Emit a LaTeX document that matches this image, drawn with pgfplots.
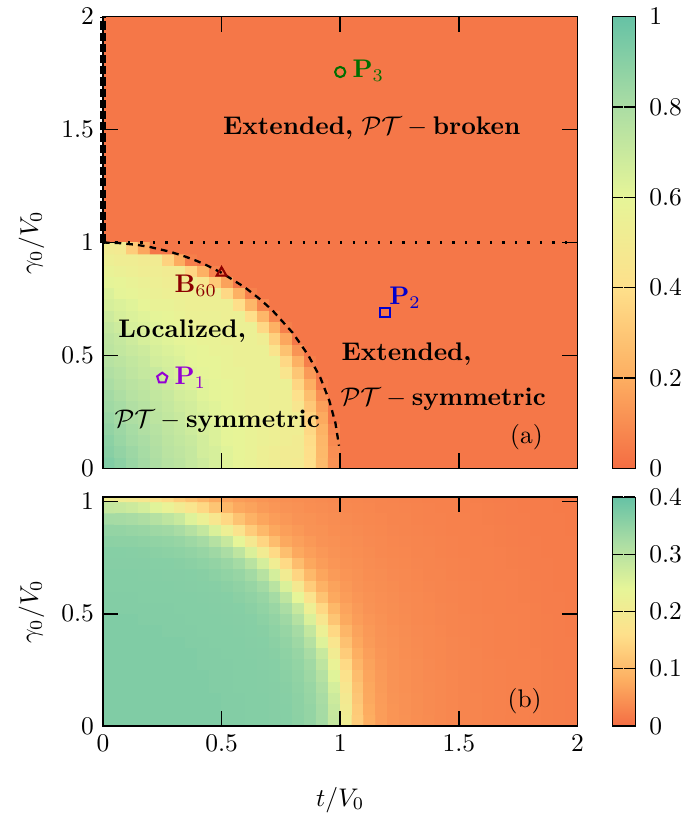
\documentclass[border=0pt]{standalone}
\usepackage{pgfplots}
\pgfplotsset{compat=1.18}
\usetikzlibrary{plotmarks}
\definecolor{bgorange}{RGB}{245,119,72}
\definecolor{pviolet}{RGB}{148,0,211}
\definecolor{pblue}{RGB}{0,0,205}
\definecolor{pgreen}{RGB}{0,110,0}
\definecolor{bred}{RGB}{140,0,0}
\pgfplotsset{
  colormap={spec}{rgb255(0cm)=(244,109,67); rgb255(1cm)=(253,174,97); rgb255(2cm)=(254,224,139); rgb255(3cm)=(230,245,152); rgb255(4cm)=(171,221,164); rgb255(5cm)=(102,194,165)},
  panel/.style={
    scale only axis, width=186.3pt,
    xmin=0, xmax=2, enlargelimits=false,
    axis on top,
    tick align=inside, tick pos=both,
    major tick length=6pt,
    tick style={black, line width=0.6pt},
    axis line style={line width=0.6pt},
    colormap name=spec,
    colorbar,
    colorbar style={width=9pt, at={(parent axis.north east)}, anchor=north west, xshift=5.1pt,
      tick align=inside, ytick pos=both, yticklabel pos=right, major tick length=4.3pt,
      yticklabel style={xshift=2pt}, axis line style={line width=0.5pt}},
    every axis y label/.style={at={(axis description cs:0,0.5)}, xshift=-28pt, rotate=90, anchor=center},
  },
}
\begin{document}
\begin{tikzpicture}
\begin{axis}[panel, at={(0,0)}, anchor=north west, height=177.3pt,
  ymin=0, ymax=2, xtick={0,0.5,1,1.5,2}, xticklabels={}, ytick={0,0.5,1,1.5,2},
  ylabel={$\gamma_0/V_0$}, point meta min=0, point meta max=1,
  colorbar style={ytick={0,0.2,0.4,0.6,0.8,1}},
  axis background/.style={fill=bgorange}, clip=false]
\addplot[matrix plot*, mesh/cols=22, point meta=explicit] table[row sep=\\, meta index=2] {
0.025 0.025 0.92\\ 0.075 0.025 0.89\\ 0.125 0.025 0.85\\ 0.175 0.025 0.82\\ 0.225 0.025 0.79\\ 0.275 0.025 0.76\\ 0.325 0.025 0.74\\ 0.375 0.025 0.71\\ 0.425 0.025 0.684\\ 0.475 0.025 0.652\\ 0.525 0.025 0.62\\ 0.575 0.025 0.588\\ 0.625 0.025 0.572\\ 0.675 0.025 0.54\\ 0.725 0.025 0.524\\ 0.775 0.025 0.508\\ 0.825 0.025 0.492\\ 0.875 0.025 0.402\\ 0.925 0.025 0.253\\ 0.975 0.025 0.113\\ 1.025 0.025 0.03\\ 1.075 0.025 0.03\\
0.025 0.075 0.90\\ 0.075 0.075 0.87\\ 0.125 0.075 0.84\\ 0.175 0.075 0.81\\ 0.225 0.075 0.78\\ 0.275 0.075 0.75\\ 0.325 0.075 0.73\\ 0.375 0.075 0.71\\ 0.425 0.075 0.668\\ 0.475 0.075 0.652\\ 0.525 0.075 0.62\\ 0.575 0.075 0.588\\ 0.625 0.075 0.572\\ 0.675 0.075 0.54\\ 0.725 0.075 0.524\\ 0.775 0.075 0.508\\ 0.825 0.075 0.508\\ 0.875 0.075 0.394\\ 0.925 0.075 0.245\\ 0.975 0.075 0.104\\ 1.025 0.075 0.03\\ 1.075 0.075 0.03\\
0.025 0.125 0.89\\ 0.075 0.125 0.85\\ 0.125 0.125 0.82\\ 0.175 0.125 0.80\\ 0.225 0.125 0.77\\ 0.275 0.125 0.74\\ 0.325 0.125 0.72\\ 0.375 0.125 0.70\\ 0.425 0.125 0.668\\ 0.475 0.125 0.636\\ 0.525 0.125 0.604\\ 0.575 0.125 0.588\\ 0.625 0.125 0.572\\ 0.675 0.125 0.556\\ 0.725 0.125 0.54\\ 0.775 0.125 0.524\\ 0.825 0.125 0.508\\ 0.875 0.125 0.386\\ 0.925 0.125 0.237\\ 0.975 0.125 0.088\\ 1.025 0.125 0.03\\ 1.075 0.125 0.03\\
0.025 0.175 0.87\\ 0.075 0.175 0.84\\ 0.125 0.175 0.81\\ 0.175 0.175 0.78\\ 0.225 0.175 0.76\\ 0.275 0.175 0.73\\ 0.325 0.175 0.71\\ 0.375 0.175 0.684\\ 0.425 0.175 0.652\\ 0.475 0.175 0.636\\ 0.525 0.175 0.604\\ 0.575 0.175 0.588\\ 0.625 0.175 0.572\\ 0.675 0.175 0.556\\ 0.725 0.175 0.54\\ 0.775 0.175 0.524\\ 0.825 0.175 0.524\\ 0.875 0.175 0.369\\ 0.925 0.175 0.22\\ 0.975 0.175 0.071\\ 1.025 0.175 0.03\\ 1.075 0.175 0.03\\
0.025 0.225 0.85\\ 0.075 0.225 0.82\\ 0.125 0.225 0.79\\ 0.175 0.225 0.77\\ 0.225 0.225 0.74\\ 0.275 0.225 0.72\\ 0.325 0.225 0.70\\ 0.375 0.225 0.668\\ 0.425 0.225 0.652\\ 0.475 0.225 0.62\\ 0.525 0.225 0.604\\ 0.575 0.225 0.588\\ 0.625 0.225 0.556\\ 0.675 0.225 0.556\\ 0.725 0.225 0.54\\ 0.775 0.225 0.54\\ 0.825 0.225 0.524\\ 0.875 0.225 0.344\\ 0.925 0.225 0.187\\ 0.975 0.225 0.03\\ 1.025 0.225 0.03\\ 1.075 0.225 0.03\\
0.025 0.275 0.83\\ 0.075 0.275 0.81\\ 0.125 0.275 0.78\\ 0.175 0.275 0.76\\ 0.225 0.275 0.73\\ 0.275 0.275 0.71\\ 0.325 0.275 0.684\\ 0.375 0.275 0.668\\ 0.425 0.275 0.636\\ 0.475 0.275 0.62\\ 0.525 0.275 0.588\\ 0.575 0.275 0.572\\ 0.625 0.275 0.556\\ 0.675 0.275 0.556\\ 0.725 0.275 0.54\\ 0.775 0.275 0.54\\ 0.825 0.275 0.46\\ 0.875 0.275 0.303\\ 0.925 0.275 0.154\\ 0.975 0.275 0.03\\ 1.025 0.275 0.03\\ 1.075 0.275 0.03\\
0.025 0.325 0.82\\ 0.075 0.325 0.79\\ 0.125 0.325 0.76\\ 0.175 0.325 0.74\\ 0.225 0.325 0.72\\ 0.275 0.325 0.70\\ 0.325 0.325 0.668\\ 0.375 0.325 0.652\\ 0.425 0.325 0.62\\ 0.475 0.325 0.604\\ 0.525 0.325 0.588\\ 0.575 0.325 0.572\\ 0.625 0.325 0.556\\ 0.675 0.325 0.556\\ 0.725 0.325 0.54\\ 0.775 0.325 0.54\\ 0.825 0.325 0.41\\ 0.875 0.325 0.262\\ 0.925 0.325 0.104\\ 0.975 0.325 0.03\\ 1.025 0.325 0.03\\ 1.075 0.325 0.03\\
0.025 0.375 0.80\\ 0.075 0.375 0.77\\ 0.125 0.375 0.75\\ 0.175 0.375 0.73\\ 0.225 0.375 0.71\\ 0.275 0.375 0.684\\ 0.325 0.375 0.652\\ 0.375 0.375 0.636\\ 0.425 0.375 0.62\\ 0.475 0.375 0.604\\ 0.525 0.375 0.588\\ 0.575 0.375 0.572\\ 0.625 0.375 0.556\\ 0.675 0.375 0.556\\ 0.725 0.375 0.556\\ 0.775 0.375 0.556\\ 0.825 0.375 0.361\\ 0.875 0.375 0.204\\ 0.925 0.375 0.047\\ 0.975 0.375 0.03\\ 1.025 0.375 0.03\\ 1.075 0.375 0.03\\
0.025 0.425 0.78\\ 0.075 0.425 0.76\\ 0.125 0.425 0.73\\ 0.175 0.425 0.71\\ 0.225 0.425 0.70\\ 0.275 0.425 0.668\\ 0.325 0.425 0.636\\ 0.375 0.425 0.62\\ 0.425 0.425 0.604\\ 0.475 0.425 0.588\\ 0.525 0.425 0.572\\ 0.575 0.425 0.572\\ 0.625 0.425 0.556\\ 0.675 0.425 0.556\\ 0.725 0.425 0.556\\ 0.775 0.425 0.444\\ 0.825 0.425 0.295\\ 0.875 0.425 0.138\\ 0.925 0.425 0.03\\ 0.975 0.425 0.03\\ 1.025 0.425 0.03\\ 1.075 0.425 0.03\\
0.025 0.475 0.76\\ 0.075 0.475 0.74\\ 0.125 0.475 0.72\\ 0.175 0.475 0.70\\ 0.225 0.475 0.668\\ 0.275 0.475 0.652\\ 0.325 0.475 0.636\\ 0.375 0.475 0.604\\ 0.425 0.475 0.588\\ 0.475 0.475 0.588\\ 0.525 0.475 0.572\\ 0.575 0.475 0.556\\ 0.625 0.475 0.556\\ 0.675 0.475 0.556\\ 0.725 0.475 0.556\\ 0.775 0.475 0.369\\ 0.825 0.475 0.212\\ 0.875 0.475 0.055\\ 0.925 0.475 0.03\\ 0.975 0.475 0.03\\ 1.025 0.475 0.03\\ 1.075 0.475 0.03\\
0.025 0.525 0.74\\ 0.075 0.525 0.72\\ 0.125 0.525 0.70\\ 0.175 0.525 0.684\\ 0.225 0.525 0.652\\ 0.275 0.525 0.636\\ 0.325 0.525 0.62\\ 0.375 0.525 0.604\\ 0.425 0.525 0.588\\ 0.475 0.525 0.572\\ 0.525 0.525 0.572\\ 0.575 0.525 0.556\\ 0.625 0.525 0.556\\ 0.675 0.525 0.556\\ 0.725 0.525 0.435\\ 0.775 0.525 0.278\\ 0.825 0.525 0.121\\ 0.875 0.525 0.03\\ 0.925 0.525 0.03\\ 0.975 0.525 0.03\\ 1.025 0.525 0.03\\ 1.075 0.525 0.03\\
0.025 0.575 0.73\\ 0.075 0.575 0.71\\ 0.125 0.575 0.684\\ 0.175 0.575 0.652\\ 0.225 0.575 0.636\\ 0.275 0.575 0.62\\ 0.325 0.575 0.604\\ 0.375 0.575 0.588\\ 0.425 0.575 0.572\\ 0.475 0.575 0.572\\ 0.525 0.575 0.556\\ 0.575 0.575 0.556\\ 0.625 0.575 0.556\\ 0.675 0.575 0.524\\ 0.725 0.575 0.336\\ 0.775 0.575 0.179\\ 0.825 0.575 0.03\\ 0.875 0.575 0.03\\ 0.925 0.575 0.03\\ 0.975 0.575 0.03\\ 1.025 0.575 0.03\\ 1.075 0.575 0.03\\
0.025 0.625 0.71\\ 0.075 0.625 0.684\\ 0.125 0.625 0.652\\ 0.175 0.625 0.636\\ 0.225 0.625 0.62\\ 0.275 0.625 0.604\\ 0.325 0.625 0.588\\ 0.375 0.625 0.572\\ 0.425 0.625 0.556\\ 0.475 0.625 0.556\\ 0.525 0.625 0.556\\ 0.575 0.625 0.556\\ 0.625 0.625 0.556\\ 0.675 0.625 0.369\\ 0.725 0.625 0.212\\ 0.775 0.625 0.055\\ 0.825 0.625 0.03\\ 0.875 0.625 0.03\\ 0.925 0.625 0.03\\ 0.975 0.625 0.03\\ 1.025 0.625 0.03\\ 1.075 0.625 0.03\\
0.025 0.675 0.684\\ 0.075 0.675 0.652\\ 0.125 0.675 0.636\\ 0.175 0.675 0.62\\ 0.225 0.675 0.604\\ 0.275 0.675 0.588\\ 0.325 0.675 0.572\\ 0.375 0.675 0.556\\ 0.425 0.675 0.556\\ 0.475 0.675 0.556\\ 0.525 0.675 0.54\\ 0.575 0.675 0.556\\ 0.625 0.675 0.394\\ 0.675 0.675 0.237\\ 0.725 0.675 0.08\\ 0.775 0.675 0.03\\ 0.825 0.675 0.03\\ 0.875 0.675 0.03\\ 0.925 0.675 0.03\\ 0.975 0.675 0.03\\ 1.025 0.675 0.03\\ 1.075 0.675 0.03\\
0.025 0.725 0.652\\ 0.075 0.725 0.636\\ 0.125 0.725 0.62\\ 0.175 0.725 0.588\\ 0.225 0.725 0.572\\ 0.275 0.725 0.572\\ 0.325 0.725 0.556\\ 0.375 0.725 0.54\\ 0.425 0.725 0.54\\ 0.475 0.725 0.54\\ 0.525 0.725 0.54\\ 0.575 0.725 0.394\\ 0.625 0.725 0.237\\ 0.675 0.725 0.08\\ 0.725 0.725 0.03\\ 0.775 0.725 0.03\\ 0.825 0.725 0.03\\ 0.875 0.725 0.03\\ 0.925 0.725 0.03\\ 0.975 0.725 0.03\\ 1.025 0.725 0.03\\ 1.075 0.725 0.03\\
0.025 0.775 0.636\\ 0.075 0.775 0.604\\ 0.125 0.775 0.588\\ 0.175 0.775 0.572\\ 0.225 0.775 0.556\\ 0.275 0.775 0.54\\ 0.325 0.775 0.54\\ 0.375 0.775 0.54\\ 0.425 0.775 0.54\\ 0.475 0.775 0.54\\ 0.525 0.775 0.369\\ 0.575 0.775 0.212\\ 0.625 0.775 0.063\\ 0.675 0.775 0.03\\ 0.725 0.775 0.03\\ 0.775 0.775 0.03\\ 0.825 0.775 0.03\\ 0.875 0.775 0.03\\ 0.925 0.775 0.03\\ 0.975 0.775 0.03\\ 1.025 0.775 0.03\\ 1.075 0.775 0.03\\
0.025 0.825 0.604\\ 0.075 0.825 0.588\\ 0.125 0.825 0.572\\ 0.175 0.825 0.556\\ 0.225 0.825 0.54\\ 0.275 0.825 0.524\\ 0.325 0.825 0.524\\ 0.375 0.825 0.524\\ 0.425 0.825 0.46\\ 0.475 0.825 0.311\\ 0.525 0.825 0.162\\ 0.575 0.825 0.03\\ 0.625 0.825 0.03\\ 0.675 0.825 0.03\\ 0.725 0.825 0.03\\ 0.775 0.825 0.03\\ 0.825 0.825 0.03\\ 0.875 0.825 0.03\\ 0.925 0.825 0.03\\ 0.975 0.825 0.03\\ 1.025 0.825 0.03\\ 1.075 0.825 0.03\\
0.025 0.875 0.572\\ 0.075 0.875 0.556\\ 0.125 0.875 0.54\\ 0.175 0.875 0.524\\ 0.225 0.875 0.524\\ 0.275 0.875 0.508\\ 0.325 0.875 0.508\\ 0.375 0.875 0.361\\ 0.425 0.875 0.212\\ 0.475 0.875 0.063\\ 0.525 0.875 0.03\\ 0.575 0.875 0.03\\ 0.625 0.875 0.03\\ 0.675 0.875 0.03\\ 0.725 0.875 0.03\\ 0.775 0.875 0.03\\ 0.825 0.875 0.03\\ 0.875 0.875 0.03\\ 0.925 0.875 0.03\\ 0.975 0.875 0.03\\ 1.025 0.875 0.03\\ 1.075 0.875 0.03\\
0.025 0.925 0.54\\ 0.075 0.925 0.524\\ 0.125 0.925 0.524\\ 0.175 0.925 0.508\\ 0.225 0.925 0.508\\ 0.275 0.925 0.344\\ 0.325 0.925 0.195\\ 0.375 0.925 0.055\\ 0.425 0.925 0.03\\ 0.475 0.925 0.03\\ 0.525 0.925 0.03\\ 0.575 0.925 0.03\\ 0.625 0.925 0.03\\ 0.675 0.925 0.03\\ 0.725 0.925 0.03\\ 0.775 0.925 0.03\\ 0.825 0.925 0.03\\ 0.875 0.925 0.03\\ 0.925 0.925 0.03\\ 0.975 0.925 0.03\\ 1.025 0.925 0.03\\ 1.075 0.925 0.03\\
0.025 0.975 0.508\\ 0.075 0.975 0.492\\ 0.125 0.975 0.319\\ 0.175 0.975 0.179\\ 0.225 0.975 0.03\\ 0.275 0.975 0.03\\ 0.325 0.975 0.03\\ 0.375 0.975 0.03\\ 0.425 0.975 0.03\\ 0.475 0.975 0.03\\ 0.525 0.975 0.03\\ 0.575 0.975 0.03\\ 0.625 0.975 0.03\\ 0.675 0.975 0.03\\ 0.725 0.975 0.03\\ 0.775 0.975 0.03\\ 0.825 0.975 0.03\\ 0.875 0.975 0.03\\ 0.925 0.975 0.03\\ 0.975 0.975 0.03\\ 1.025 0.975 0.03\\ 1.075 0.975 0.03\\
};
\addplot[black, line width=2.2pt, dash pattern=on 3.2pt off 1.2pt] coordinates {(0,1) (0,2)};
\addplot[black, line width=1.3pt, dash pattern=on 0.9pt off 4pt] coordinates {(0,1) (2,1)};
\addplot[black, line width=0.9pt, dash pattern=on 2.6pt off 2pt] coordinates {(0,1) (0.063,0.998) (0.141,0.99) (0.199,0.98) (0.28,0.96) (0.341,0.94) (0.392,0.92) (0.436,0.9) (0.5,0.866) (0.6,0.8) (0.661,0.75) (0.714,0.7) (0.8,0.6) (0.866,0.5) (0.917,0.4) (0.954,0.3) (0.98,0.2) (0.995,0.1)};
\addplot[only marks, mark=pentagon, mark size=2.1pt, pviolet, line width=0.8pt] coordinates {(0.25,0.4)};
\addplot[only marks, mark=square, mark size=1.9pt, pblue, line width=0.8pt] coordinates {(1.19,0.69)};
\addplot[only marks, mark=o, mark size=2pt, pgreen, line width=0.8pt] coordinates {(1.0,1.755)};
\addplot[only marks, mark=triangle, mark size=2.2pt, bred, line width=0.8pt] coordinates {(0.5,0.866)};
\node[anchor=base] at (axis cs:1.133,1.478) {\textbf{Extended,} $\mathcal{PT}{}-{}$\textbf{broken}};
\node[anchor=base] at (axis cs:0.334,0.58) {\textbf{Localized,}};
\node[anchor=base] at (axis cs:0.482,0.181) {$\mathcal{PT}{}-{}$\textbf{symmetric}};
\node[anchor=base] at (axis cs:1.28,0.478) {\textbf{Extended,}};
\node[anchor=base] at (axis cs:1.434,0.279) {$\mathcal{PT}{}-{}$\textbf{symmetric}};
\node[anchor=base] at (axis cs:1.785,0.11) {(a)};
\node[anchor=base west, inner sep=0pt, text=pviolet] at (axis cs:0.30,0.372) {$\mathbf{P}_1$};
\node[anchor=base west, inner sep=0pt, text=pblue] at (axis cs:1.205,0.725) {$\mathbf{P}_2$};
\node[anchor=base west, inner sep=0pt, text=pgreen] at (axis cs:1.05,1.73) {$\mathbf{P}_3$};
\node[anchor=base west, inner sep=0pt, text=bred] at (axis cs:0.30,0.779) {$\mathbf{B}_{60}$};
\end{axis}
\begin{axis}[panel, at={(0,-188.6pt)}, anchor=north west, height=89.8pt,
  ymin=0, ymax=1.02, xtick={0,0.5,1,1.5,2}, ytick={0,0.5,1},
  xlabel={$t/V_0$}, ylabel={$\gamma_0/V_0$},
  every axis x label/.style={at={(axis description cs:0.5,0)}, yshift=-29pt, anchor=center},
  point meta min=0, point meta max=0.4,
  colorbar style={ytick={0,0.1,0.2,0.3,0.4}}]
\addplot[matrix plot*, mesh/cols=40, point meta=explicit] table[row sep=\\, meta index=2] {
0.025 0.025 0.37\\ 0.075 0.025 0.37\\ 0.125 0.025 0.37\\ 0.175 0.025 0.37\\ 0.225 0.025 0.37\\ 0.275 0.025 0.37\\ 0.325 0.025 0.37\\ 0.375 0.025 0.37\\ 0.425 0.025 0.37\\ 0.475 0.025 0.37\\ 0.525 0.025 0.366\\ 0.575 0.025 0.366\\ 0.625 0.025 0.365\\ 0.675 0.025 0.365\\ 0.725 0.025 0.363\\ 0.775 0.025 0.362\\ 0.825 0.025 0.356\\ 0.875 0.025 0.346\\ 0.925 0.025 0.327\\ 0.975 0.025 0.285\\ 1.025 0.025 0.208\\ 1.075 0.025 0.128\\ 1.125 0.025 0.080\\ 1.175 0.025 0.059\\ 1.225 0.025 0.049\\ 1.275 0.025 0.045\\ 1.325 0.025 0.041\\ 1.375 0.025 0.038\\ 1.425 0.025 0.035\\ 1.475 0.025 0.032\\ 1.525 0.025 0.030\\ 1.575 0.025 0.029\\ 1.625 0.025 0.027\\ 1.675 0.025 0.026\\ 1.725 0.025 0.025\\ 1.775 0.025 0.024\\ 1.825 0.025 0.023\\ 1.875 0.025 0.022\\ 1.925 0.025 0.021\\ 1.975 0.025 0.020\\
0.025 0.075 0.37\\ 0.075 0.075 0.37\\ 0.125 0.075 0.37\\ 0.175 0.075 0.37\\ 0.225 0.075 0.37\\ 0.275 0.075 0.37\\ 0.325 0.075 0.37\\ 0.375 0.075 0.37\\ 0.425 0.075 0.37\\ 0.475 0.075 0.37\\ 0.525 0.075 0.366\\ 0.575 0.075 0.366\\ 0.625 0.075 0.365\\ 0.675 0.075 0.365\\ 0.725 0.075 0.363\\ 0.775 0.075 0.362\\ 0.825 0.075 0.355\\ 0.875 0.075 0.346\\ 0.925 0.075 0.326\\ 0.975 0.075 0.282\\ 1.025 0.075 0.203\\ 1.075 0.075 0.124\\ 1.125 0.075 0.078\\ 1.175 0.075 0.059\\ 1.225 0.075 0.049\\ 1.275 0.075 0.044\\ 1.325 0.075 0.040\\ 1.375 0.075 0.037\\ 1.425 0.075 0.034\\ 1.475 0.075 0.032\\ 1.525 0.075 0.030\\ 1.575 0.075 0.029\\ 1.625 0.075 0.027\\ 1.675 0.075 0.026\\ 1.725 0.075 0.025\\ 1.775 0.075 0.024\\ 1.825 0.075 0.023\\ 1.875 0.075 0.022\\ 1.925 0.075 0.021\\ 1.975 0.075 0.020\\
0.025 0.125 0.37\\ 0.075 0.125 0.37\\ 0.125 0.125 0.37\\ 0.175 0.125 0.37\\ 0.225 0.125 0.37\\ 0.275 0.125 0.37\\ 0.325 0.125 0.37\\ 0.375 0.125 0.37\\ 0.425 0.125 0.37\\ 0.475 0.125 0.37\\ 0.525 0.125 0.366\\ 0.575 0.125 0.366\\ 0.625 0.125 0.365\\ 0.675 0.125 0.365\\ 0.725 0.125 0.363\\ 0.775 0.125 0.361\\ 0.825 0.125 0.354\\ 0.875 0.125 0.343\\ 0.925 0.125 0.322\\ 0.975 0.125 0.275\\ 1.025 0.125 0.196\\ 1.075 0.125 0.119\\ 1.125 0.125 0.074\\ 1.175 0.125 0.058\\ 1.225 0.125 0.048\\ 1.275 0.125 0.044\\ 1.325 0.125 0.040\\ 1.375 0.125 0.037\\ 1.425 0.125 0.034\\ 1.475 0.125 0.032\\ 1.525 0.125 0.030\\ 1.575 0.125 0.029\\ 1.625 0.125 0.027\\ 1.675 0.125 0.026\\ 1.725 0.125 0.025\\ 1.775 0.125 0.024\\ 1.825 0.125 0.023\\ 1.875 0.125 0.022\\ 1.925 0.125 0.021\\ 1.975 0.125 0.020\\
0.025 0.175 0.37\\ 0.075 0.175 0.37\\ 0.125 0.175 0.37\\ 0.175 0.175 0.37\\ 0.225 0.175 0.37\\ 0.275 0.175 0.37\\ 0.325 0.175 0.37\\ 0.375 0.175 0.37\\ 0.425 0.175 0.37\\ 0.475 0.175 0.366\\ 0.525 0.175 0.366\\ 0.575 0.175 0.365\\ 0.625 0.175 0.365\\ 0.675 0.175 0.364\\ 0.725 0.175 0.363\\ 0.775 0.175 0.360\\ 0.825 0.175 0.352\\ 0.875 0.175 0.340\\ 0.925 0.175 0.315\\ 0.975 0.175 0.264\\ 1.025 0.175 0.184\\ 1.075 0.175 0.113\\ 1.125 0.175 0.072\\ 1.175 0.175 0.056\\ 1.225 0.175 0.047\\ 1.275 0.175 0.043\\ 1.325 0.175 0.039\\ 1.375 0.175 0.037\\ 1.425 0.175 0.034\\ 1.475 0.175 0.032\\ 1.525 0.175 0.030\\ 1.575 0.175 0.028\\ 1.625 0.175 0.027\\ 1.675 0.175 0.026\\ 1.725 0.175 0.025\\ 1.775 0.175 0.024\\ 1.825 0.175 0.023\\ 1.875 0.175 0.022\\ 1.925 0.175 0.021\\ 1.975 0.175 0.020\\
0.025 0.225 0.37\\ 0.075 0.225 0.37\\ 0.125 0.225 0.37\\ 0.175 0.225 0.37\\ 0.225 0.225 0.37\\ 0.275 0.225 0.37\\ 0.325 0.225 0.37\\ 0.375 0.225 0.37\\ 0.425 0.225 0.37\\ 0.475 0.225 0.366\\ 0.525 0.225 0.366\\ 0.575 0.225 0.365\\ 0.625 0.225 0.365\\ 0.675 0.225 0.364\\ 0.725 0.225 0.362\\ 0.775 0.225 0.358\\ 0.825 0.225 0.350\\ 0.875 0.225 0.335\\ 0.925 0.225 0.306\\ 0.975 0.225 0.248\\ 1.025 0.225 0.169\\ 1.075 0.225 0.104\\ 1.125 0.225 0.069\\ 1.175 0.225 0.055\\ 1.225 0.225 0.047\\ 1.275 0.225 0.043\\ 1.325 0.225 0.039\\ 1.375 0.225 0.036\\ 1.425 0.225 0.034\\ 1.475 0.225 0.032\\ 1.525 0.225 0.030\\ 1.575 0.225 0.028\\ 1.625 0.225 0.027\\ 1.675 0.225 0.026\\ 1.725 0.225 0.025\\ 1.775 0.225 0.024\\ 1.825 0.225 0.023\\ 1.875 0.225 0.022\\ 1.925 0.225 0.021\\ 1.975 0.225 0.020\\
0.025 0.275 0.37\\ 0.075 0.275 0.37\\ 0.125 0.275 0.37\\ 0.175 0.275 0.37\\ 0.225 0.275 0.37\\ 0.275 0.275 0.37\\ 0.325 0.275 0.37\\ 0.375 0.275 0.37\\ 0.425 0.275 0.366\\ 0.475 0.275 0.366\\ 0.525 0.275 0.366\\ 0.575 0.275 0.365\\ 0.625 0.275 0.365\\ 0.675 0.275 0.363\\ 0.725 0.275 0.362\\ 0.775 0.275 0.356\\ 0.825 0.275 0.347\\ 0.875 0.275 0.331\\ 0.925 0.275 0.294\\ 0.975 0.275 0.227\\ 1.025 0.275 0.151\\ 1.075 0.275 0.093\\ 1.125 0.275 0.066\\ 1.175 0.275 0.053\\ 1.225 0.275 0.046\\ 1.275 0.275 0.042\\ 1.325 0.275 0.039\\ 1.375 0.275 0.036\\ 1.425 0.275 0.033\\ 1.475 0.275 0.031\\ 1.525 0.275 0.030\\ 1.575 0.275 0.028\\ 1.625 0.275 0.027\\ 1.675 0.275 0.026\\ 1.725 0.275 0.025\\ 1.775 0.275 0.024\\ 1.825 0.275 0.023\\ 1.875 0.275 0.022\\ 1.925 0.275 0.020\\ 1.975 0.275 0.020\\
0.025 0.325 0.37\\ 0.075 0.325 0.37\\ 0.125 0.325 0.37\\ 0.175 0.325 0.37\\ 0.225 0.325 0.37\\ 0.275 0.325 0.37\\ 0.325 0.325 0.37\\ 0.375 0.325 0.37\\ 0.425 0.325 0.366\\ 0.475 0.325 0.366\\ 0.525 0.325 0.365\\ 0.575 0.325 0.365\\ 0.625 0.325 0.364\\ 0.675 0.325 0.363\\ 0.725 0.325 0.360\\ 0.775 0.325 0.353\\ 0.825 0.325 0.343\\ 0.875 0.325 0.322\\ 0.925 0.325 0.280\\ 0.975 0.325 0.203\\ 1.025 0.325 0.128\\ 1.075 0.325 0.081\\ 1.125 0.325 0.061\\ 1.175 0.325 0.050\\ 1.225 0.325 0.045\\ 1.275 0.325 0.041\\ 1.325 0.325 0.038\\ 1.375 0.325 0.035\\ 1.425 0.325 0.033\\ 1.475 0.325 0.031\\ 1.525 0.325 0.029\\ 1.575 0.325 0.028\\ 1.625 0.325 0.026\\ 1.675 0.325 0.025\\ 1.725 0.325 0.025\\ 1.775 0.325 0.023\\ 1.825 0.325 0.023\\ 1.875 0.325 0.021\\ 1.925 0.325 0.020\\ 1.975 0.325 0.020\\
0.025 0.375 0.37\\ 0.075 0.375 0.37\\ 0.125 0.375 0.37\\ 0.175 0.375 0.37\\ 0.225 0.375 0.37\\ 0.275 0.375 0.37\\ 0.325 0.375 0.37\\ 0.375 0.375 0.366\\ 0.425 0.375 0.366\\ 0.475 0.375 0.365\\ 0.525 0.375 0.365\\ 0.575 0.375 0.365\\ 0.625 0.375 0.363\\ 0.675 0.375 0.362\\ 0.725 0.375 0.357\\ 0.775 0.375 0.349\\ 0.825 0.375 0.335\\ 0.875 0.375 0.306\\ 0.925 0.375 0.251\\ 0.975 0.375 0.177\\ 1.025 0.375 0.110\\ 1.075 0.375 0.072\\ 1.125 0.375 0.057\\ 1.175 0.375 0.048\\ 1.225 0.375 0.044\\ 1.275 0.375 0.040\\ 1.325 0.375 0.037\\ 1.375 0.375 0.035\\ 1.425 0.375 0.033\\ 1.475 0.375 0.031\\ 1.525 0.375 0.029\\ 1.575 0.375 0.027\\ 1.625 0.375 0.026\\ 1.675 0.375 0.025\\ 1.725 0.375 0.024\\ 1.775 0.375 0.023\\ 1.825 0.375 0.022\\ 1.875 0.375 0.021\\ 1.925 0.375 0.020\\ 1.975 0.375 0.020\\
0.025 0.425 0.37\\ 0.075 0.425 0.37\\ 0.125 0.425 0.37\\ 0.175 0.425 0.37\\ 0.225 0.425 0.37\\ 0.275 0.425 0.366\\ 0.325 0.425 0.366\\ 0.375 0.425 0.366\\ 0.425 0.425 0.365\\ 0.475 0.425 0.365\\ 0.525 0.425 0.365\\ 0.575 0.425 0.364\\ 0.625 0.425 0.362\\ 0.675 0.425 0.360\\ 0.725 0.425 0.353\\ 0.775 0.425 0.343\\ 0.825 0.425 0.326\\ 0.875 0.425 0.287\\ 0.925 0.425 0.219\\ 0.975 0.425 0.147\\ 1.025 0.425 0.093\\ 1.075 0.425 0.066\\ 1.125 0.425 0.054\\ 1.175 0.425 0.047\\ 1.225 0.425 0.043\\ 1.275 0.425 0.039\\ 1.325 0.425 0.036\\ 1.375 0.425 0.034\\ 1.425 0.425 0.032\\ 1.475 0.425 0.030\\ 1.525 0.425 0.028\\ 1.575 0.425 0.027\\ 1.625 0.425 0.026\\ 1.675 0.425 0.025\\ 1.725 0.425 0.024\\ 1.775 0.425 0.023\\ 1.825 0.425 0.022\\ 1.875 0.425 0.021\\ 1.925 0.425 0.020\\ 1.975 0.425 0.019\\
0.025 0.475 0.37\\ 0.075 0.475 0.37\\ 0.125 0.475 0.37\\ 0.175 0.475 0.366\\ 0.225 0.475 0.366\\ 0.275 0.475 0.366\\ 0.325 0.475 0.366\\ 0.375 0.475 0.365\\ 0.425 0.475 0.365\\ 0.475 0.475 0.365\\ 0.525 0.475 0.364\\ 0.575 0.475 0.363\\ 0.625 0.475 0.361\\ 0.675 0.475 0.356\\ 0.725 0.475 0.348\\ 0.775 0.475 0.334\\ 0.825 0.475 0.306\\ 0.875 0.475 0.256\\ 0.925 0.475 0.184\\ 0.975 0.475 0.116\\ 1.025 0.475 0.075\\ 1.075 0.475 0.059\\ 1.125 0.475 0.050\\ 1.175 0.475 0.045\\ 1.225 0.475 0.041\\ 1.275 0.475 0.038\\ 1.325 0.475 0.035\\ 1.375 0.475 0.033\\ 1.425 0.475 0.031\\ 1.475 0.475 0.030\\ 1.525 0.475 0.028\\ 1.575 0.475 0.027\\ 1.625 0.475 0.026\\ 1.675 0.475 0.025\\ 1.725 0.475 0.024\\ 1.775 0.475 0.023\\ 1.825 0.475 0.022\\ 1.875 0.475 0.021\\ 1.925 0.475 0.020\\ 1.975 0.475 0.019\\
0.025 0.525 0.366\\ 0.075 0.525 0.366\\ 0.125 0.525 0.366\\ 0.175 0.525 0.366\\ 0.225 0.525 0.366\\ 0.275 0.525 0.366\\ 0.325 0.525 0.365\\ 0.375 0.525 0.365\\ 0.425 0.525 0.365\\ 0.475 0.525 0.364\\ 0.525 0.525 0.363\\ 0.575 0.525 0.362\\ 0.625 0.525 0.357\\ 0.675 0.525 0.350\\ 0.725 0.525 0.339\\ 0.775 0.525 0.320\\ 0.825 0.525 0.282\\ 0.875 0.525 0.216\\ 0.925 0.525 0.147\\ 0.975 0.525 0.096\\ 1.025 0.525 0.068\\ 1.075 0.525 0.055\\ 1.125 0.525 0.047\\ 1.175 0.525 0.043\\ 1.225 0.525 0.040\\ 1.275 0.525 0.037\\ 1.325 0.525 0.035\\ 1.375 0.525 0.033\\ 1.425 0.525 0.031\\ 1.475 0.525 0.029\\ 1.525 0.525 0.027\\ 1.575 0.525 0.026\\ 1.625 0.525 0.025\\ 1.675 0.525 0.025\\ 1.725 0.525 0.023\\ 1.775 0.525 0.023\\ 1.825 0.525 0.022\\ 1.875 0.525 0.020\\ 1.925 0.525 0.020\\ 1.975 0.525 0.019\\
0.025 0.575 0.366\\ 0.075 0.575 0.366\\ 0.125 0.575 0.366\\ 0.175 0.575 0.365\\ 0.225 0.575 0.365\\ 0.275 0.575 0.365\\ 0.325 0.575 0.365\\ 0.375 0.575 0.365\\ 0.425 0.575 0.364\\ 0.475 0.575 0.363\\ 0.525 0.575 0.362\\ 0.575 0.575 0.357\\ 0.625 0.575 0.351\\ 0.675 0.575 0.343\\ 0.725 0.575 0.327\\ 0.775 0.575 0.294\\ 0.825 0.575 0.240\\ 0.875 0.575 0.173\\ 0.925 0.575 0.113\\ 0.975 0.575 0.074\\ 1.025 0.575 0.059\\ 1.075 0.575 0.050\\ 1.125 0.575 0.045\\ 1.175 0.575 0.042\\ 1.225 0.575 0.039\\ 1.275 0.575 0.036\\ 1.325 0.575 0.034\\ 1.375 0.575 0.032\\ 1.425 0.575 0.030\\ 1.475 0.575 0.028\\ 1.525 0.575 0.027\\ 1.575 0.575 0.026\\ 1.625 0.575 0.025\\ 1.675 0.575 0.024\\ 1.725 0.575 0.023\\ 1.775 0.575 0.022\\ 1.825 0.575 0.021\\ 1.875 0.575 0.020\\ 1.925 0.575 0.020\\ 1.975 0.575 0.019\\
0.025 0.625 0.365\\ 0.075 0.625 0.365\\ 0.125 0.625 0.365\\ 0.175 0.625 0.365\\ 0.225 0.625 0.365\\ 0.275 0.625 0.365\\ 0.325 0.625 0.364\\ 0.375 0.625 0.363\\ 0.425 0.625 0.362\\ 0.475 0.625 0.361\\ 0.525 0.625 0.357\\ 0.575 0.625 0.351\\ 0.625 0.625 0.343\\ 0.675 0.625 0.329\\ 0.725 0.625 0.301\\ 0.775 0.625 0.256\\ 0.825 0.625 0.192\\ 0.875 0.625 0.128\\ 0.925 0.625 0.087\\ 0.975 0.625 0.066\\ 1.025 0.625 0.054\\ 1.075 0.625 0.047\\ 1.125 0.625 0.043\\ 1.175 0.625 0.040\\ 1.225 0.625 0.038\\ 1.275 0.625 0.035\\ 1.325 0.625 0.033\\ 1.375 0.625 0.031\\ 1.425 0.625 0.029\\ 1.475 0.625 0.028\\ 1.525 0.625 0.027\\ 1.575 0.625 0.026\\ 1.625 0.625 0.025\\ 1.675 0.625 0.024\\ 1.725 0.625 0.023\\ 1.775 0.625 0.022\\ 1.825 0.625 0.021\\ 1.875 0.625 0.020\\ 1.925 0.625 0.019\\ 1.975 0.625 0.019\\
0.025 0.675 0.365\\ 0.075 0.675 0.365\\ 0.125 0.675 0.365\\ 0.175 0.675 0.364\\ 0.225 0.675 0.364\\ 0.275 0.675 0.363\\ 0.325 0.675 0.363\\ 0.375 0.675 0.362\\ 0.425 0.675 0.360\\ 0.475 0.675 0.356\\ 0.525 0.675 0.350\\ 0.575 0.675 0.343\\ 0.625 0.675 0.329\\ 0.675 0.675 0.303\\ 0.725 0.675 0.264\\ 0.775 0.675 0.203\\ 0.825 0.675 0.143\\ 0.875 0.675 0.098\\ 0.925 0.675 0.070\\ 0.975 0.675 0.057\\ 1.025 0.675 0.049\\ 1.075 0.675 0.045\\ 1.125 0.675 0.041\\ 1.175 0.675 0.039\\ 1.225 0.675 0.036\\ 1.275 0.675 0.034\\ 1.325 0.675 0.032\\ 1.375 0.675 0.030\\ 1.425 0.675 0.029\\ 1.475 0.675 0.027\\ 1.525 0.675 0.026\\ 1.575 0.675 0.025\\ 1.625 0.675 0.024\\ 1.675 0.675 0.023\\ 1.725 0.675 0.023\\ 1.775 0.675 0.022\\ 1.825 0.675 0.020\\ 1.875 0.675 0.020\\ 1.925 0.675 0.019\\ 1.975 0.675 0.018\\
0.025 0.725 0.363\\ 0.075 0.725 0.363\\ 0.125 0.725 0.363\\ 0.175 0.725 0.363\\ 0.225 0.725 0.362\\ 0.275 0.725 0.362\\ 0.325 0.725 0.360\\ 0.375 0.725 0.357\\ 0.425 0.725 0.353\\ 0.475 0.725 0.348\\ 0.525 0.725 0.339\\ 0.575 0.725 0.327\\ 0.625 0.725 0.301\\ 0.675 0.725 0.264\\ 0.725 0.725 0.208\\ 0.775 0.725 0.151\\ 0.825 0.725 0.104\\ 0.875 0.725 0.073\\ 0.925 0.725 0.059\\ 0.975 0.725 0.051\\ 1.025 0.725 0.046\\ 1.075 0.725 0.043\\ 1.125 0.725 0.039\\ 1.175 0.725 0.037\\ 1.225 0.725 0.035\\ 1.275 0.725 0.033\\ 1.325 0.725 0.031\\ 1.375 0.725 0.029\\ 1.425 0.725 0.028\\ 1.475 0.725 0.027\\ 1.525 0.725 0.026\\ 1.575 0.725 0.025\\ 1.625 0.725 0.024\\ 1.675 0.725 0.023\\ 1.725 0.725 0.022\\ 1.775 0.725 0.021\\ 1.825 0.725 0.020\\ 1.875 0.725 0.020\\ 1.925 0.725 0.019\\ 1.975 0.725 0.018\\
0.025 0.775 0.362\\ 0.075 0.775 0.362\\ 0.125 0.775 0.361\\ 0.175 0.775 0.360\\ 0.225 0.775 0.358\\ 0.275 0.775 0.356\\ 0.325 0.775 0.353\\ 0.375 0.775 0.349\\ 0.425 0.775 0.343\\ 0.475 0.775 0.334\\ 0.525 0.775 0.320\\ 0.575 0.775 0.294\\ 0.625 0.775 0.256\\ 0.675 0.775 0.203\\ 0.725 0.775 0.151\\ 0.775 0.775 0.107\\ 0.825 0.775 0.074\\ 0.875 0.775 0.061\\ 0.925 0.775 0.053\\ 0.975 0.775 0.047\\ 1.025 0.775 0.043\\ 1.075 0.775 0.041\\ 1.125 0.775 0.038\\ 1.175 0.775 0.035\\ 1.225 0.775 0.033\\ 1.275 0.775 0.032\\ 1.325 0.775 0.030\\ 1.375 0.775 0.029\\ 1.425 0.775 0.027\\ 1.475 0.775 0.026\\ 1.525 0.775 0.025\\ 1.575 0.775 0.025\\ 1.625 0.775 0.024\\ 1.675 0.775 0.023\\ 1.725 0.775 0.022\\ 1.775 0.775 0.021\\ 1.825 0.775 0.020\\ 1.875 0.775 0.019\\ 1.925 0.775 0.019\\ 1.975 0.775 0.018\\
0.025 0.825 0.356\\ 0.075 0.825 0.355\\ 0.125 0.825 0.354\\ 0.175 0.825 0.352\\ 0.225 0.825 0.350\\ 0.275 0.825 0.347\\ 0.325 0.825 0.343\\ 0.375 0.825 0.335\\ 0.425 0.825 0.326\\ 0.475 0.825 0.306\\ 0.525 0.825 0.282\\ 0.575 0.825 0.240\\ 0.625 0.825 0.192\\ 0.675 0.825 0.143\\ 0.725 0.825 0.104\\ 0.775 0.825 0.074\\ 0.825 0.825 0.063\\ 0.875 0.825 0.054\\ 0.925 0.825 0.047\\ 0.975 0.825 0.044\\ 1.025 0.825 0.041\\ 1.075 0.825 0.039\\ 1.125 0.825 0.036\\ 1.175 0.825 0.034\\ 1.225 0.825 0.032\\ 1.275 0.825 0.031\\ 1.325 0.825 0.029\\ 1.375 0.825 0.028\\ 1.425 0.825 0.027\\ 1.475 0.825 0.026\\ 1.525 0.825 0.025\\ 1.575 0.825 0.024\\ 1.625 0.825 0.023\\ 1.675 0.825 0.022\\ 1.725 0.825 0.021\\ 1.775 0.825 0.020\\ 1.825 0.825 0.020\\ 1.875 0.825 0.019\\ 1.925 0.825 0.018\\ 1.975 0.825 0.018\\
0.025 0.875 0.346\\ 0.075 0.875 0.346\\ 0.125 0.875 0.343\\ 0.175 0.875 0.340\\ 0.225 0.875 0.335\\ 0.275 0.875 0.331\\ 0.325 0.875 0.322\\ 0.375 0.875 0.306\\ 0.425 0.875 0.287\\ 0.475 0.875 0.256\\ 0.525 0.875 0.216\\ 0.575 0.875 0.173\\ 0.625 0.875 0.128\\ 0.675 0.875 0.098\\ 0.725 0.875 0.073\\ 0.775 0.875 0.061\\ 0.825 0.875 0.054\\ 0.875 0.875 0.047\\ 0.925 0.875 0.045\\ 0.975 0.875 0.041\\ 1.025 0.875 0.039\\ 1.075 0.875 0.037\\ 1.125 0.875 0.035\\ 1.175 0.875 0.033\\ 1.225 0.875 0.031\\ 1.275 0.875 0.030\\ 1.325 0.875 0.028\\ 1.375 0.875 0.027\\ 1.425 0.875 0.026\\ 1.475 0.875 0.025\\ 1.525 0.875 0.025\\ 1.575 0.875 0.023\\ 1.625 0.875 0.023\\ 1.675 0.875 0.022\\ 1.725 0.875 0.021\\ 1.775 0.875 0.020\\ 1.825 0.875 0.019\\ 1.875 0.875 0.019\\ 1.925 0.875 0.018\\ 1.975 0.875 0.017\\
0.025 0.925 0.327\\ 0.075 0.925 0.326\\ 0.125 0.925 0.322\\ 0.175 0.925 0.315\\ 0.225 0.925 0.306\\ 0.275 0.925 0.294\\ 0.325 0.925 0.280\\ 0.375 0.925 0.251\\ 0.425 0.925 0.219\\ 0.475 0.925 0.184\\ 0.525 0.925 0.147\\ 0.575 0.925 0.113\\ 0.625 0.925 0.087\\ 0.675 0.925 0.070\\ 0.725 0.925 0.059\\ 0.775 0.925 0.053\\ 0.825 0.925 0.047\\ 0.875 0.925 0.045\\ 0.925 0.925 0.042\\ 0.975 0.925 0.039\\ 1.025 0.925 0.037\\ 1.075 0.925 0.035\\ 1.125 0.925 0.033\\ 1.175 0.925 0.032\\ 1.225 0.925 0.030\\ 1.275 0.925 0.029\\ 1.325 0.925 0.027\\ 1.375 0.925 0.026\\ 1.425 0.925 0.026\\ 1.475 0.925 0.025\\ 1.525 0.925 0.024\\ 1.575 0.925 0.023\\ 1.625 0.925 0.022\\ 1.675 0.925 0.021\\ 1.725 0.925 0.020\\ 1.775 0.925 0.020\\ 1.825 0.925 0.019\\ 1.875 0.925 0.018\\ 1.925 0.925 0.018\\ 1.975 0.925 0.017\\
0.025 0.975 0.285\\ 0.075 0.975 0.282\\ 0.125 0.975 0.275\\ 0.175 0.975 0.264\\ 0.225 0.975 0.248\\ 0.275 0.975 0.227\\ 0.325 0.975 0.203\\ 0.375 0.975 0.177\\ 0.425 0.975 0.147\\ 0.475 0.975 0.116\\ 0.525 0.975 0.096\\ 0.575 0.975 0.074\\ 0.625 0.975 0.066\\ 0.675 0.975 0.057\\ 0.725 0.975 0.051\\ 0.775 0.975 0.047\\ 0.825 0.975 0.044\\ 0.875 0.975 0.041\\ 0.925 0.975 0.039\\ 0.975 0.975 0.037\\ 1.025 0.975 0.035\\ 1.075 0.975 0.033\\ 1.125 0.975 0.032\\ 1.175 0.975 0.030\\ 1.225 0.975 0.029\\ 1.275 0.975 0.028\\ 1.325 0.975 0.027\\ 1.375 0.975 0.026\\ 1.425 0.975 0.025\\ 1.475 0.975 0.024\\ 1.525 0.975 0.023\\ 1.575 0.975 0.023\\ 1.625 0.975 0.022\\ 1.675 0.975 0.021\\ 1.725 0.975 0.020\\ 1.775 0.975 0.019\\ 1.825 0.975 0.019\\ 1.875 0.975 0.018\\ 1.925 0.975 0.017\\ 1.975 0.975 0.017\\
0.025 1.025 0.208\\ 0.075 1.025 0.203\\ 0.125 1.025 0.196\\ 0.175 1.025 0.184\\ 0.225 1.025 0.169\\ 0.275 1.025 0.151\\ 0.325 1.025 0.128\\ 0.375 1.025 0.110\\ 0.425 1.025 0.093\\ 0.475 1.025 0.075\\ 0.525 1.025 0.068\\ 0.575 1.025 0.059\\ 0.625 1.025 0.054\\ 0.675 1.025 0.049\\ 0.725 1.025 0.046\\ 0.775 1.025 0.043\\ 0.825 1.025 0.041\\ 0.875 1.025 0.039\\ 0.925 1.025 0.037\\ 0.975 1.025 0.035\\ 1.025 1.025 0.033\\ 1.075 1.025 0.032\\ 1.125 1.025 0.031\\ 1.175 1.025 0.029\\ 1.225 1.025 0.028\\ 1.275 1.025 0.027\\ 1.325 1.025 0.026\\ 1.375 1.025 0.025\\ 1.425 1.025 0.025\\ 1.475 1.025 0.024\\ 1.525 1.025 0.023\\ 1.575 1.025 0.022\\ 1.625 1.025 0.021\\ 1.675 1.025 0.020\\ 1.725 1.025 0.020\\ 1.775 1.025 0.019\\ 1.825 1.025 0.018\\ 1.875 1.025 0.018\\ 1.925 1.025 0.017\\ 1.975 1.025 0.016\\
};
\node[anchor=base] at (axis cs:1.777,0.08) {(b)};
\end{axis}
\path (-40.4pt,6.3pt) rectangle (230.2pt,-315.7pt);
\end{tikzpicture}
\end{document}
